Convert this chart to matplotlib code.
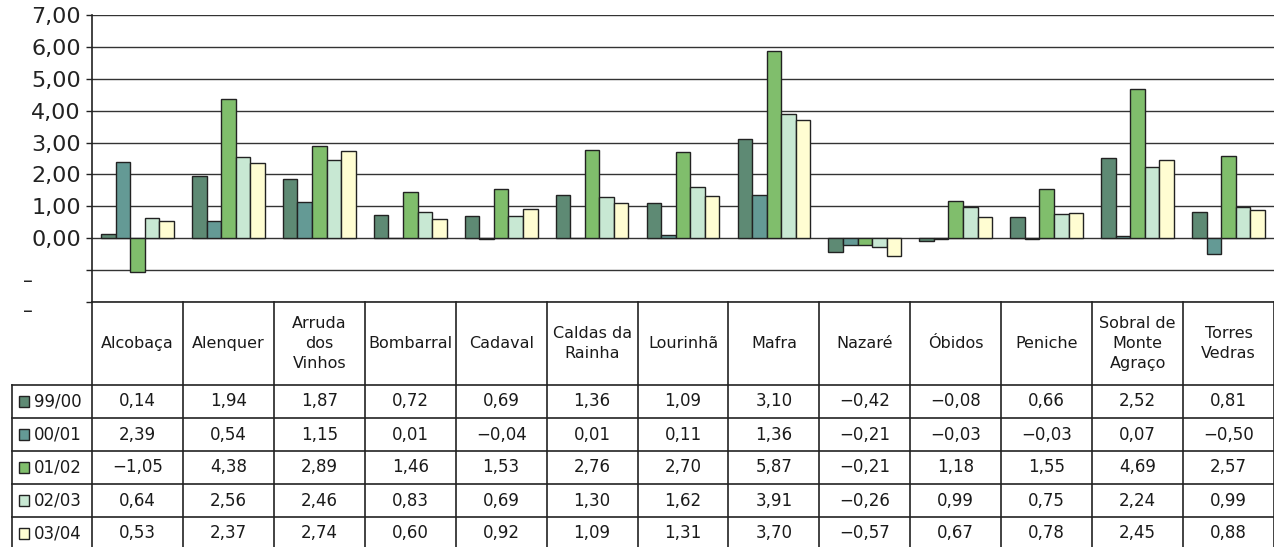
import matplotlib.pyplot as plt
from matplotlib.patches import Rectangle

# municipalities (table header) and season rows
municipalities = [
    "Alcobaça", "Alenquer", "Arruda\ndos\nVinhos", "Bombarral", "Cadaval",
    "Caldas da\nRainha", "Lourinhã", "Mafra", "Nazaré", "Óbidos", "Peniche",
    "Sobral de\nMonte\nAgraço", "Torres\nVedras",
]
seasons = ["99/00", "00/01", "01/02", "02/03", "03/04"]

v_99_00 = [0.14, 1.94, 1.87, 0.72, 0.69, 1.36, 1.09, 3.10, -0.42, -0.08, 0.66, 2.52, 0.81]
v_00_01 = [2.39, 0.54, 1.15, 0.01, -0.04, 0.01, 0.11, 1.36, -0.21, -0.03, -0.03, 0.07, -0.50]
v_01_02 = [-1.05, 4.38, 2.89, 1.46, 1.53, 2.76, 2.70, 5.87, -0.21, 1.18, 1.55, 4.69, 2.57]
v_02_03 = [0.64, 2.56, 2.46, 0.83, 0.69, 1.30, 1.62, 3.91, -0.26, 0.99, 0.75, 2.24, 0.99]
v_03_04 = [0.53, 2.37, 2.74, 0.60, 0.92, 1.09, 1.31, 3.70, -0.57, 0.67, 0.78, 2.45, 0.88]
series = [v_99_00, v_00_01, v_01_02, v_02_03, v_03_04]

y_ticks = [-2, -1, 0, 1, 2, 3, 4, 5, 6, 7]
colors = ["#5e8a74", "#649a95", "#80be6c", "#c8e8d3", "#fffdd2"]

W, H = 1274, 547
FONT = "DejaVu Sans"
LINE = "#222222"


def fmt(v):
    return f"{v:.2f}".replace(".", ",").replace("-", "\u2212")


fig = plt.figure(figsize=(W / 100, H / 100), dpi=100)
left = 92 / W
ax = fig.add_axes([left, 1 - 302 / H, 1 - left, 287 / H])
tab = fig.add_axes([left, 0, 1 - left, 1 - 302 / H])

n = len(municipalities)
bar_w = 0.16
for k, vals in enumerate(series):
    xs = [i + (k - 2) * bar_w for i in range(n)]
    ax.bar(xs, vals, width=bar_w, color=colors[k], edgecolor=LINE,
           linewidth=1.0, zorder=3)

ax.set_xlim(-0.5, n - 0.5)
ax.set_ylim(-2, 7)
ax.set_yticks(y_ticks)
ax.set_yticklabels([fmt(t) if t >= 0 else "" for t in y_ticks],
                   fontsize=16, family=FONT)
ax.tick_params(axis="y", length=4, width=1, pad=4, colors=LINE)
ax.set_xticks([])
ax.grid(axis="y", color="#333333", linewidth=1.0, zorder=1)
for s in ("top", "right"):
    ax.spines[s].set_visible(False)
ax.spines["left"].set_color(LINE)
ax.spines["left"].set_linewidth(1.2)
ax.spines["bottom"].set_color(LINE)
ax.spines["bottom"].set_linewidth(1.2)

# stray dashes left of the axis for the negative ticks
fig.text(28 / W, 1 - 282 / H, "\u2013", fontsize=14, family=FONT,
         ha="center", va="center", color=LINE)
fig.text(28 / W, 1 - 312 / H, "\u2013", fontsize=14, family=FONT,
         ha="center", va="center", color=LINE)

# data table under the chart
row_h = 33
header = 83 / row_h
total = (H - 302) / row_h
tab.set_xlim(-0.5, n - 0.5)
tab.set_ylim(total, 0)
tab.axis("off")
lab_left = -0.5 - 80 / (1182 / n)

for k in range(n + 1):
    tab.plot([k - 0.5, k - 0.5], [0, total], color=LINE, lw=1.2, clip_on=False)
tab.plot([lab_left, lab_left], [header, total], color=LINE, lw=1.2, clip_on=False)
for r in range(len(seasons) + 1):
    tab.plot([lab_left, n - 0.5], [header + r, header + r], color=LINE, lw=1.2,
             clip_on=False)

for i, name in enumerate(municipalities):
    tab.text(i, header / 2, name, ha="center", va="center", fontsize=11.5,
             family=FONT, linespacing=1.45, color="#1a1a1a")

for r, (lab, vals) in enumerate(zip(seasons, series)):
    yc = header + r + 0.5
    tab.add_patch(Rectangle((lab_left + 0.08, yc - 0.17), 0.11, 0.34,
                            facecolor=colors[r], edgecolor=LINE, lw=1.0,
                            clip_on=False))
    tab.text(lab_left + 0.24, yc, lab, ha="left", va="center", fontsize=12,
             family=FONT, color="#1a1a1a", clip_on=False)
    for i, v in enumerate(vals):
        tab.text(i, yc, fmt(v), ha="center", va="center", fontsize=12,
                 family=FONT, color="#1a1a1a")

fig.savefig("out.png", dpi=100)
